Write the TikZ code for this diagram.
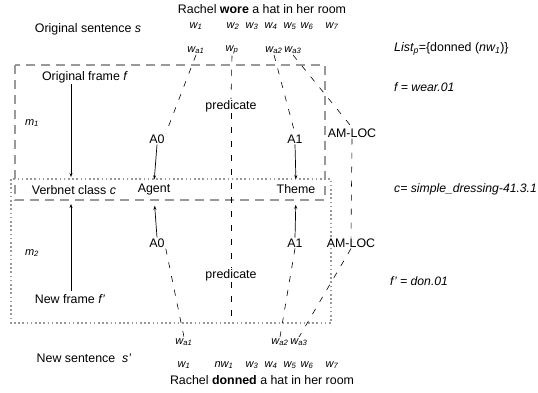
\documentclass[tikz,border=0pt]{standalone}
\usepackage{fontspec}
\setmainfont{Liberation Sans}
\usetikzlibrary{arrows.meta}
\begin{document}
\begin{tikzpicture}[x=1pt,y=-1pt,
 txt/.style={font=\fontsize{12.4}{14}\selectfont, inner sep=1pt},
 itx/.style={font=\fontsize{12.2}{14}\selectfont\itshape, inner sep=1pt},
 wv/.style={font=\fontsize{11}{13}\selectfont\itshape, inner sep=1pt},
 fa/.style={draw=gray!80, line width=1.7pt, dash pattern=on 9pt off 6pt},
 fb/.style={draw=gray!80, line width=1.6pt, dash pattern=on 1.6pt off 2.6pt},
 lk/.style={draw=black, line width=0.6pt, dash pattern=on 6pt off 8pt},
 ar/.style={draw=black, line width=0.7pt, -{Stealth[length=4pt,width=3pt]}}]
\useasboundingbox (0,0) rectangle (538,392);
% frames
\draw[fa] (15,65) rectangle (325,200);
\draw[fb] (11,179) rectangle (331,323);
% top sentence
\node[txt] (t1) at (262,9) {Rachel \textbf{wore} a hat in her room};
\node[txt] (os) at (88,29) {Original sentence \textit{s}};
\node[wv] (w1) at (196,26) {w\textsubscript{1}};
\node[wv] (w2) at (233,26) {w\textsubscript{2}};
\node[wv] (w3) at (252,26) {w\textsubscript{3}};
\node[wv] (w4) at (271,26) {w\textsubscript{4}};
\node[wv] (w5) at (290,26) {w\textsubscript{5}};
\node[wv] (w6) at (307,26) {w\textsubscript{6}};
\node[wv] (w7) at (332,26) {w\textsubscript{7}};
\node[wv] (wa1) at (196,50) {w\textsubscript{a1}};
\node[wv] (wp) at (232,50) {w\textsubscript{p}};
\node[wv] (wa2) at (274,50) {w\textsubscript{a2}};
\node[wv] (wa3) at (293,50) {w\textsubscript{a3}};
% right notes
\node[txt, anchor=west] (lp) at (393,49) {\textit{List\textsubscript{p}}=\{donned (\textit{nw\textsubscript{1}})\}};
\node[itx, anchor=west] (ff) at (393,87) {f = wear.01};
\node[itx, anchor=west] (cc) at (393,189) {c= simple\_dressing-41.3.1};
\node[itx, anchor=west] (fp) at (389,281) {f' = don.01};
% left labels
\node[txt] (of) at (85,77) {Original frame \textit{f}};
\node[wv] (m1) at (32,123) {m\textsubscript{1}};
\node[txt] (vc) at (74,190) {Verbnet class \textit{c}};
\node[wv] (m2) at (32,253) {m\textsubscript{2}};
\node[txt] (nf) at (70,299) {New frame \textit{f'}};
\node[txt] (ns) at (84,358) {New sentence \ \textit{s'}};
% roles
\node[txt] (agent) at (154,190) {Agent};
\node[txt] (theme) at (296,189) {Theme};
\node[txt] (A0u) at (157,139) {A0};
\node[txt] (A1u) at (295,139) {A1};
\node[txt] (AMu) at (352,133) {AM-LOC};
\node[txt] (A0l) at (157,243) {A0};
\node[txt] (A1l) at (295,243) {A1};
\node[txt] (AMl) at (351,243) {AM-LOC};
\node[txt] (pu) at (231,106) {predicate};
\node[txt] (pl) at (231,275) {predicate};
% bottom sentence
\node[wv] (b1) at (184,342) {w\textsubscript{a1}};
\node[wv] (b2) at (280,342) {w\textsubscript{a2}};
\node[wv] (b3) at (299,342) {w\textsubscript{a3}};
\node[wv] (v1) at (184,365) {w\textsubscript{1}};
\node[wv] (v2) at (224,365) {nw\textsubscript{1}};
\node[wv] (v3) at (252,365) {w\textsubscript{3}};
\node[wv] (v4) at (271,365) {w\textsubscript{4}};
\node[wv] (v5) at (290,365) {w\textsubscript{5}};
\node[wv] (v6) at (307,365) {w\textsubscript{6}};
\node[wv] (v7) at (332,365) {w\textsubscript{7}};
\node[txt] (t2) at (262,380) {Rachel \textbf{donned} a hat in her room};
% frame arrows
\coordinate (fa1) at (71,84);
\coordinate (fa2) at (71,177);
\coordinate (fb1) at (71,291);
\coordinate (fb2) at (71,204);
\draw[ar] (fa1) -- (fa2);
\draw[ar] (fb1) -- (fb2);
% role arrows
\draw[ar, shorten >=4pt] (A0u.south) -- (agent.north);
\draw[ar, shorten >=9pt] (A0l.north) -- (agent.south);
\draw[ar, shorten >=4pt] (A1u.south) -- (theme.north);
\draw[ar, shorten >=10pt] (A1l.north) -- (theme.south);
% dashed links
\coordinate (pbot) at (231,322);
\draw[lk] (wa1.south) -- (A0u.north east);
\draw[lk] (wp.south) -- (pu.north);
\draw[lk] (pu.south) -- (pl.north);
\draw[lk] (pl.south) -- (pbot);
\draw[lk] (wa2.south) -- (A1u.north);
\draw[lk] (wa3.south) -- (AMu.north);
\draw[lk] (AMu.south) -- (AMl.north);
\draw[lk] (A0l.south east) -- (b1.north);
\draw[lk] (A1l.south) -- (b2.north);
\draw[lk] (AMl.south) -- (b3.north);
\end{tikzpicture}
\end{document}
